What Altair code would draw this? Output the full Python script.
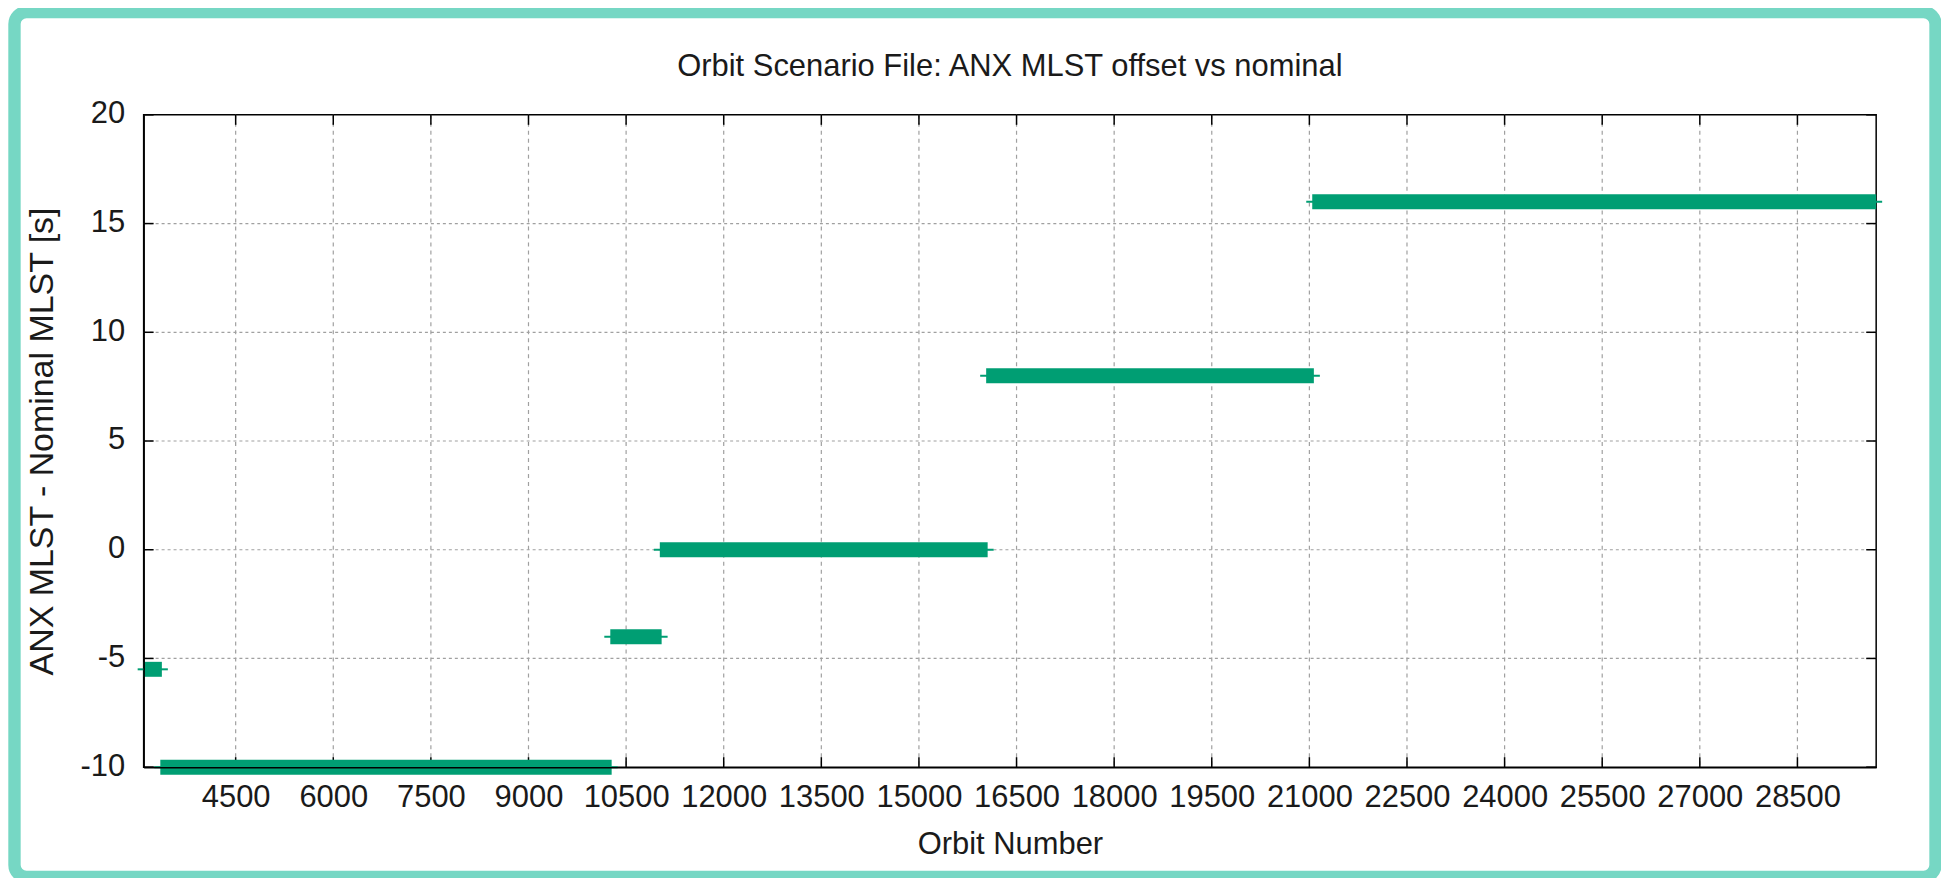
import altair as alt
import pandas as pd

# ---- data ----
seg_start = [3086, 3342, 10257, 11018, 16033, 21044]
seg_end = [3366, 10278, 11046, 16056, 21069, 29710]
seg_offset = [-5.5, -10, -4, 0, 8, 16]

x_ticks = [4500, 6000, 7500, 9000, 10500, 12000, 13500, 15000, 16500,
           18000, 19500, 21000, 22500, 24000, 25500, 27000, 28500]
y_ticks = [-10, -5, 0, 5, 10, 15, 20]
x_domain = [3086, 29710]
y_domain = [-10, 20]

TITLE = "Orbit Scenario File: ANX MLST offset vs nominal"
X_TITLE = "Orbit Number"
Y_TITLE = "ANX MLST - Nominal MLST [s]"

# ---- styling ----
W, H = 1737, 654
FONT = "Liberation Sans"
FS = 31
GREEN = "#009e73"
TEXT = "#1a1a1a"
GRID = "#a0a0a0"
FRAME = "#76d7c4"

seg = pd.DataFrame({"start": seg_start, "end": seg_end, "offset": seg_offset})
xt = pd.DataFrame({"x": x_ticks})
yt = pd.DataFrame({"y": y_ticks})
yg = pd.DataFrame({"y": [v for v in y_ticks if y_domain[0] < v < y_domain[1]]})

xs = alt.Scale(domain=x_domain, nice=False, zero=False)
ys = alt.Scale(domain=y_domain, nice=False, zero=False)

x_axis = alt.Axis(
    values=x_ticks, labelExpr="'' + datum.value", grid=False, ticks=False, tickSize=0,
    domainColor="black", domainWidth=1.5,
    labelFont=FONT, labelFontSize=FS, labelColor=TEXT,
    labelBaseline="alphabetic", labelPadding=39, labelFlush=False, labelOverlap=False,
    titleFont=FONT, titleFontSize=FS, titleFontWeight="normal", titleColor=TEXT,
    titleX=W / 2, titleY=87, titleBaseline="alphabetic", titleAlign="center",
    zindex=1,
)
y_axis = alt.Axis(
    values=y_ticks, labelExpr="'' + datum.value", grid=False, ticks=False, tickSize=0,
    domainColor="black", domainWidth=1.5,
    labelFont=FONT, labelFontSize=FS, labelColor=TEXT,
    labelBaseline="alphabetic", labelOffset=8, labelPadding=19, labelAlign="right",
    labelFlush=False, labelOverlap=False,
    titleFont=FONT, titleFontSize=34, titleFontWeight="normal", titleColor=TEXT,
    titleX=-91, titleY=H / 2, titleAngle=270, titleBaseline="alphabetic", titleAlign="center",
    zindex=1,
)


def X(field):
    return alt.X(field, type="quantitative", scale=xs, axis=x_axis, title=X_TITLE)


def Y(field):
    return alt.Y(field, type="quantitative", scale=ys, axis=y_axis, title=Y_TITLE)


frame = alt.Chart(pd.DataFrame({"k": [0]})).mark_rect(
    fillOpacity=0, stroke=FRAME, strokeWidth=12.4, cornerRadius=12
).encode(
    x=alt.value(-129.5), x2=alt.value(1796.5), y=alt.value(-103), y2=alt.value(764)
)

title = alt.Chart(pd.DataFrame({"t": [TITLE]})).mark_text(
    font=FONT, fontSize=FS, color=TEXT, align="center", baseline="alphabetic"
).encode(text="t:N", x=alt.value(W / 2), y=alt.value(-39))

grid_v = alt.Chart(xt).mark_rule(color=GRID, strokeWidth=1.2, strokeDash=[4, 4]).encode(
    x=X("x"), y=alt.value(0), y2=alt.value(H)
)
grid_h = alt.Chart(yg).mark_rule(color=GRID, strokeWidth=1.2, strokeDash=[3, 3]).encode(
    y=Y("y"), x=alt.value(0), x2=alt.value(W)
)

tick_b = alt.Chart(xt).mark_rule(color="black", strokeWidth=1.5).encode(
    x=X("x"), y=alt.value(H), y2=alt.value(H - 10)
)
tick_t = alt.Chart(xt).mark_rule(color="black", strokeWidth=1.5).encode(
    x=X("x"), y=alt.value(0), y2=alt.value(10)
)
tick_l = alt.Chart(yt).mark_rule(color="black", strokeWidth=1.5).encode(
    y=Y("y"), x=alt.value(0), x2=alt.value(10)
)
tick_r = alt.Chart(yt).mark_rule(color="black", strokeWidth=1.5).encode(
    y=Y("y"), x=alt.value(W - 10), x2=alt.value(W)
)

whiskers = alt.Chart(seg).mark_rule(color=GREEN, strokeWidth=2, xOffset=-6, x2Offset=6).encode(
    x=X("start"), x2="end:Q", y=Y("offset"),
)
bars = alt.Chart(seg).mark_rule(color=GREEN, strokeWidth=15).encode(
    x=X("start"), x2="end:Q", y=Y("offset"),
)

chart = alt.layer(
    frame, title, grid_v, grid_h, tick_b, tick_t, tick_l, tick_r, whiskers, bars
).properties(
    width=W, height=H,
    padding={"left": 136, "top": 106, "right": 65, "bottom": 110},
    autosize=alt.AutoSizeParams(type="none"),
    background="white",
).configure_view(stroke="black", strokeWidth=1.5)

chart.save("out.html", embed_options={"renderer": "svg", "actions": False})
